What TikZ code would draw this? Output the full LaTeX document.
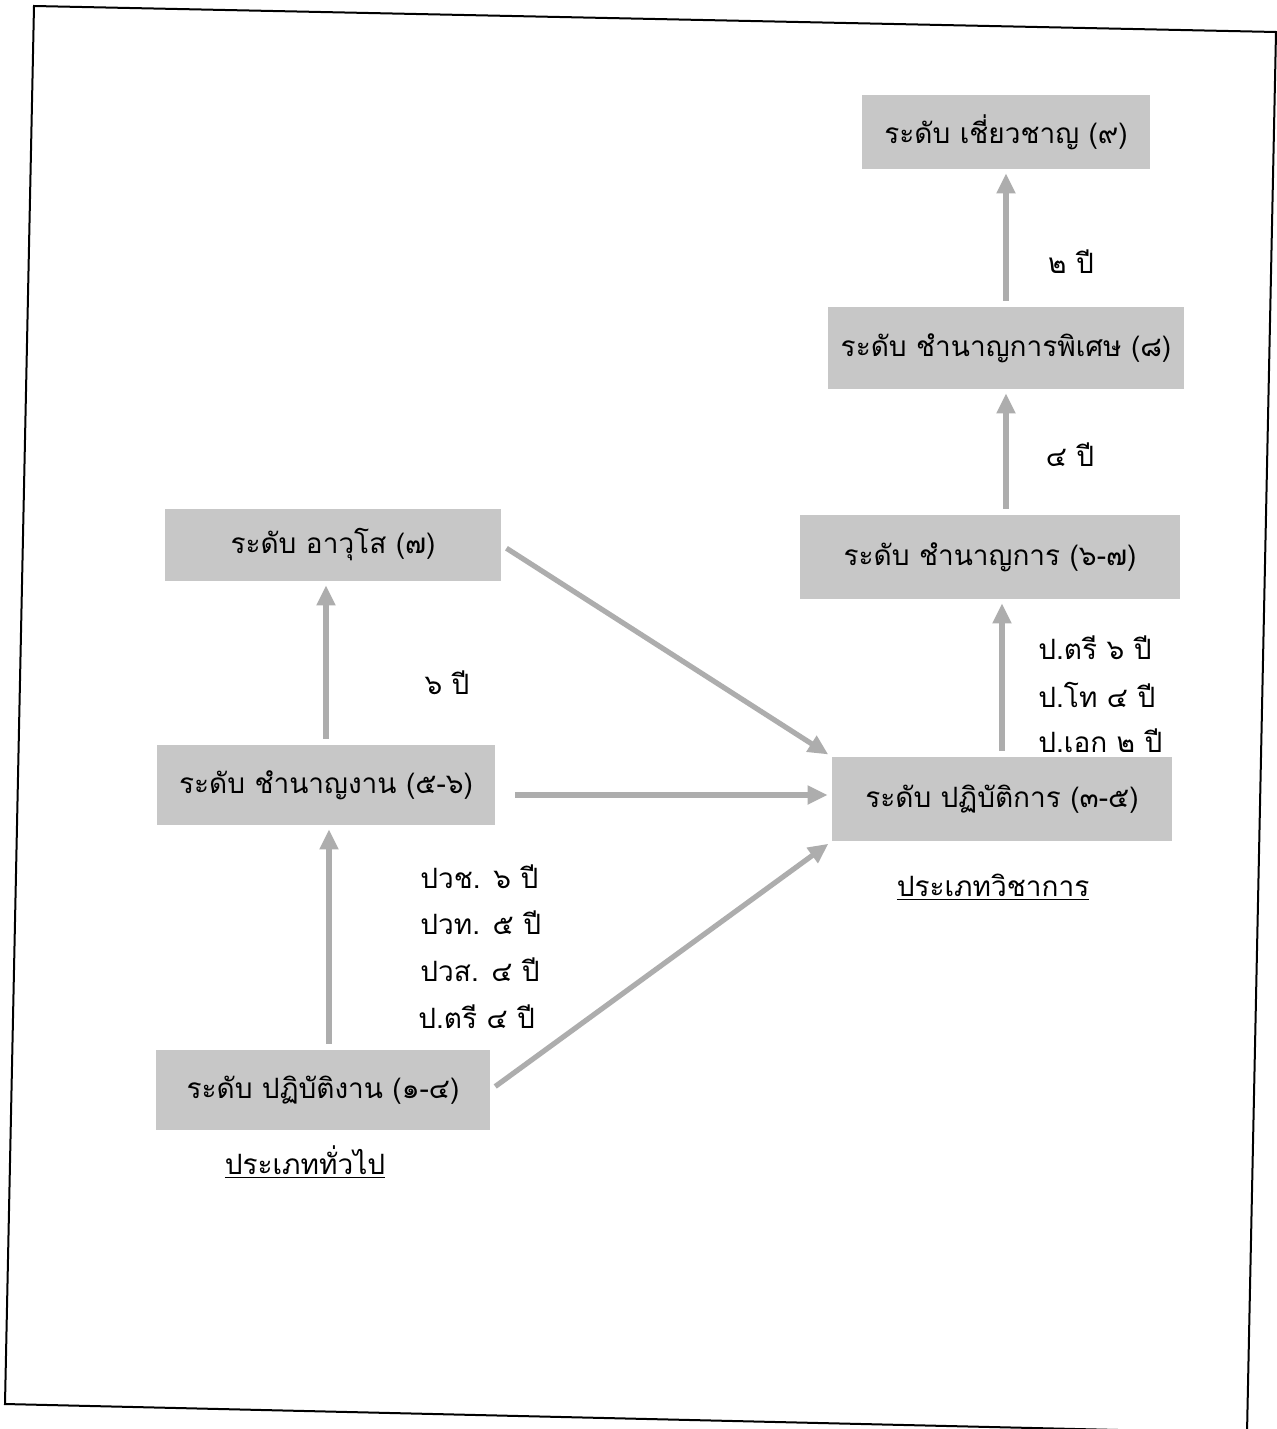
\documentclass[tikz,border=0pt]{standalone}
\usepackage{fontspec}
\newfontfamily\thaifont[Script=Thai]{Loma}
\usetikzlibrary{arrows.meta}
\definecolor{boxgray}{gray}{0.78}
\definecolor{linkgray}{gray}{0.68}
\tikzset{
  level/.style={fill=boxgray, inner sep=0pt, font=\thaifont\fontsize{14}{17}\selectfont},
  txt/.style={inner sep=0pt, font=\thaifont\fontsize{14}{17}\selectfont},
  link/.style={draw=linkgray, line width=2.6pt, shorten <=3pt, shorten >=2pt,
    -{Triangle[length=10pt,width=9pt]}},
}
\begin{document}
\begin{tikzpicture}[x=0.5pt, y=-0.5pt]
\useasboundingbox (0,0) rectangle (1277,1429);
\fill[white] (0,0) rectangle (1277,1429);
\begin{scope}
\clip (0,0) rectangle (1277,1429);
% page frame, slightly tilted
\draw[black, line width=1pt] (34,6) -- (1276,32) -- (1247,1433) -- (5,1404) -- cycle;
\end{scope}

% academic track
\node[level, minimum width=144pt, minimum height=37pt] (b9) at (1006,132) {ระดับ เชี่ยวชาญ (๙)};
\node[level, minimum width=178pt, minimum height=41pt] (b8) at (1006,348) {ระดับ ชำนาญการพิเศษ (๘)};
\node[level, minimum width=190pt, minimum height=42pt] (b67) at (990,557) {ระดับ ชำนาญการ (๖-๗)};
\node[level, minimum width=170pt, minimum height=42pt] (b35) at (1002,799) {ระดับ ปฏิบัติการ (๓-๕)};
\node[txt] (acad) at (993,887) {\underline{ประเภทวิชาการ}};

% general track
\node[level, minimum width=168pt, minimum height=36pt] (a7) at (333,545) {ระดับ อาวุโส (๗)};
\node[level, minimum width=169pt, minimum height=40pt] (a56) at (326,785) {ระดับ ชำนาญงาน (๕-๖)};
\node[level, minimum width=167pt, minimum height=40pt] (a14) at (323,1090) {ระดับ ปฏิบัติงาน (๑-๔)};
\node[txt] (gen) at (305,1162) {\underline{ประเภททั่วไป}};

% durations
\node[txt] (d2) at (1071,262) {๒ ปี};
\node[txt] (d4) at (1070,455) {๔ ปี};
\node[txt, anchor=west] (e1) at (1038,648) {ป.ตรี ๖ ปี};
\node[txt, anchor=west] (e2) at (1038,695) {ป.โท ๔ ปี};
\node[txt, anchor=west] (e3) at (1038,741) {ป.เอก ๒ ปี};
\node[txt] (d6) at (447,683) {๖ ปี};
\node[txt, anchor=west] (g1) at (420,877) {ปวช. ๖ ปี};
\node[txt, anchor=west] (g2) at (420,923) {ปวท. ๕ ปี};
\node[txt, anchor=west] (g3) at (420,970) {ปวส. ๔ ปี};
\node[txt, anchor=west] (g4) at (418,1017) {ป.ตรี ๔ ปี};

% promotions
\draw[link] (b8.north) -- (b9.south);
\draw[link] (b67.north -| b8.north) -- (b8.south);
\draw[link] (b35.north) -- (b35.north |- b67.south);
\draw[link] (a56.north) -- (a56.north |- a7.south);
\draw[link] (a14.north) ++(6,0) coordinate (a14n) (a14n) -- (a14n |- a56.south);
\draw[link] (a7.east) -- (b35.north west);
\draw[link] (a56.east) ++(14,10) coordinate (a56e) (a56e) -- (a56e -| b35.west);
\draw[link] (a14.east) -- (b35.south west);
\end{tikzpicture}
\end{document}
